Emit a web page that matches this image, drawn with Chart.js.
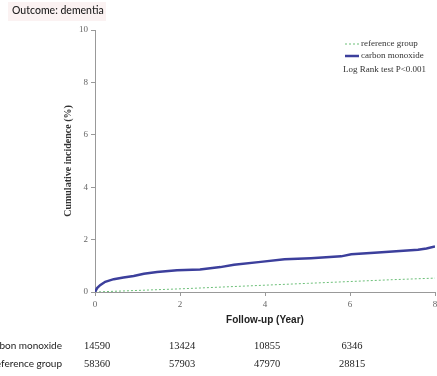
<!DOCTYPE html>
<html lang="en">
    <head>
        <meta charset="UTF-8" />
        <title>Outcome: dementia</title>
        <script src="https://cdn.jsdelivr.net/npm/chart.js"></script>
        <style>
            html,
            body {
                margin: 0;
                padding: 0;
                background: #ffffff;
            }
            .chart-box {
                width: 437px;
                height: 376px;
            }
        </style>
    </head>
    <body>
        <div class="chart-box">
            <canvas id="kmChart"></canvas>
        </div>

        <script>
            // cumulative incidence (%)
            const coTimes = [0, 0.05, 0.12, 0.24, 0.44, 0.67, 0.91, 1.15, 1.46, 1.93, 2.47, 2.95, 3.27, 3.9, 4.46, 5.08, 5.79, 6.03, 6.66, 7.6, 7.8, 8.0];
            const coValues = [0, 0.15, 0.26, 0.39, 0.49, 0.55, 0.61, 0.7, 0.76, 0.83, 0.86, 0.95, 1.04, 1.15, 1.25, 1.29, 1.36, 1.44, 1.51, 1.61, 1.66, 1.74];
            const refTimes = [0, 1, 2, 3, 4, 5, 6, 7, 8];
            const refValues = [0, 0.06, 0.12, 0.19, 0.26, 0.33, 0.4, 0.47, 0.53];

            // numbers at risk
            const riskTimes = [0, 2, 4, 6];
            const riskCO = [14590, 13424, 10855, 6346];
            const riskRef = [58360, 57903, 47970, 28815];

            const xTicks = [0, 2, 4, 6, 8];
            const yTicks = [0, 2, 4, 6, 8, 10];

            const toPoints = (xs, ys) => xs.map((x, i) => ({ x: x, y: ys[i] }));

            const extrasPlugin = {
                id: "extras",
                afterDraw(chart) {
                    const ctx = chart.ctx;
                    const xs = chart.scales.x;
                    const ds = chart.data.datasets;
                    ctx.save();

                    // heading
                    ctx.fillStyle = "#fbf2f2";
                    ctx.fillRect(8, 2, 98, 19);
                    ctx.fillStyle = "#222";
                    ctx.font = "500 10.5px Lato";
                    ctx.textBaseline = "middle";
                    ctx.textAlign = "left";
                    ctx.fillText("Outcome: dementia", 12, 11);

                    // legend
                    ctx.font = "9px 'Liberation Serif'";
                    ctx.fillStyle = "#333";
                    const rows = [
                        { ds: ds[1], y: 44 },
                        { ds: ds[0], y: 56 },
                    ];
                    rows.forEach((r) => {
                        ctx.beginPath();
                        ctx.strokeStyle = r.ds.borderColor;
                        ctx.lineWidth = r.ds.borderWidth;
                        ctx.setLineDash(r.ds.borderDash || []);
                        ctx.moveTo(345, r.y);
                        ctx.lineTo(359, r.y);
                        ctx.stroke();
                        ctx.setLineDash([]);
                        ctx.fillText(r.ds.label, 361, r.y);
                    });
                    ctx.fillText("Log Rank test P<0.001", 343, 70);

                    // numbers at risk table
                    ctx.font = "10px Lato";
                    ctx.fillStyle = "#222";
                    ctx.textAlign = "right";
                    ctx.fillText("carbon monoxide", 62, 346);
                    ctx.fillText("reference group", 62, 364);
                    ctx.font = "10.5px 'Liberation Serif'";
                    ctx.textAlign = "center";
                    riskTimes.forEach((t, i) => {
                        const px = xs.getPixelForValue(t) + 2;
                        ctx.fillText(riskCO[i], px, 346);
                        ctx.fillText(riskRef[i], px, 364);
                    });
                    ctx.restore();
                },
            };

            new Chart(document.getElementById("kmChart"), {
                type: "line",
                data: {
                    datasets: [
                        {
                            label: "carbon monoxide",
                            data: toPoints(coTimes, coValues),
                            borderColor: "#3c3f9c",
                            borderWidth: 2.5,
                            pointRadius: 0,
                            tension: 0,
                        },
                        {
                            label: "reference group",
                            data: toPoints(refTimes, refValues),
                            borderColor: "#6cbf78",
                            borderWidth: 1,
                            borderDash: [2, 2],
                            pointRadius: 0,
                            tension: 0,
                        },
                    ],
                },
                options: {
                    responsive: true,
                    maintainAspectRatio: false,
                    animation: false,
                    layout: {
                        padding: { top: 30, right: 2, bottom: 50, left: 50 },
                    },
                    plugins: {
                        legend: { display: false },
                        tooltip: { enabled: false },
                    },
                    scales: {
                        x: {
                            type: "linear",
                            min: 0,
                            max: 8,
                            afterFit: (s) => {
                                s.height = 34;
                                s.paddingRight = 0;
                            },
                            afterBuildTicks: (s) => {
                                s.ticks = xTicks.map((v) => ({ value: v }));
                            },
                            grid: {
                                drawOnChartArea: false,
                                tickLength: 4,
                                color: "#999",
                            },
                            border: { color: "#999", width: 1 },
                            ticks: {
                                padding: 3,
                                color: "#666",
                                font: { family: "'Liberation Serif'", size: 9 },
                            },
                            title: {
                                display: true,
                                text: "Follow-up (Year)",
                                color: "#222",
                                padding: { top: 0, bottom: 0 },
                                font: { family: "'Liberation Sans'", size: 10, weight: "bold" },
                            },
                        },
                        y: {
                            min: 0,
                            max: 10,
                            afterFit: (s) => {
                                s.width = 45;
                            },
                            afterBuildTicks: (s) => {
                                s.ticks = yTicks.map((v) => ({ value: v }));
                            },
                            grid: {
                                drawOnChartArea: false,
                                tickLength: 4,
                                color: "#999",
                            },
                            border: { color: "#999", width: 1 },
                            ticks: {
                                padding: 3,
                                color: "#666",
                                font: { family: "'Liberation Serif'", size: 9 },
                            },
                            title: {
                                display: true,
                                text: "Cumulative incidence (%)",
                                color: "#333",
                                padding: { top: 12, bottom: 0 },
                                font: { family: "'Liberation Serif'", size: 10, weight: "bold" },
                            },
                        },
                    },
                },
                plugins: [extrasPlugin],
            });
        </script>
    </body>
</html>
